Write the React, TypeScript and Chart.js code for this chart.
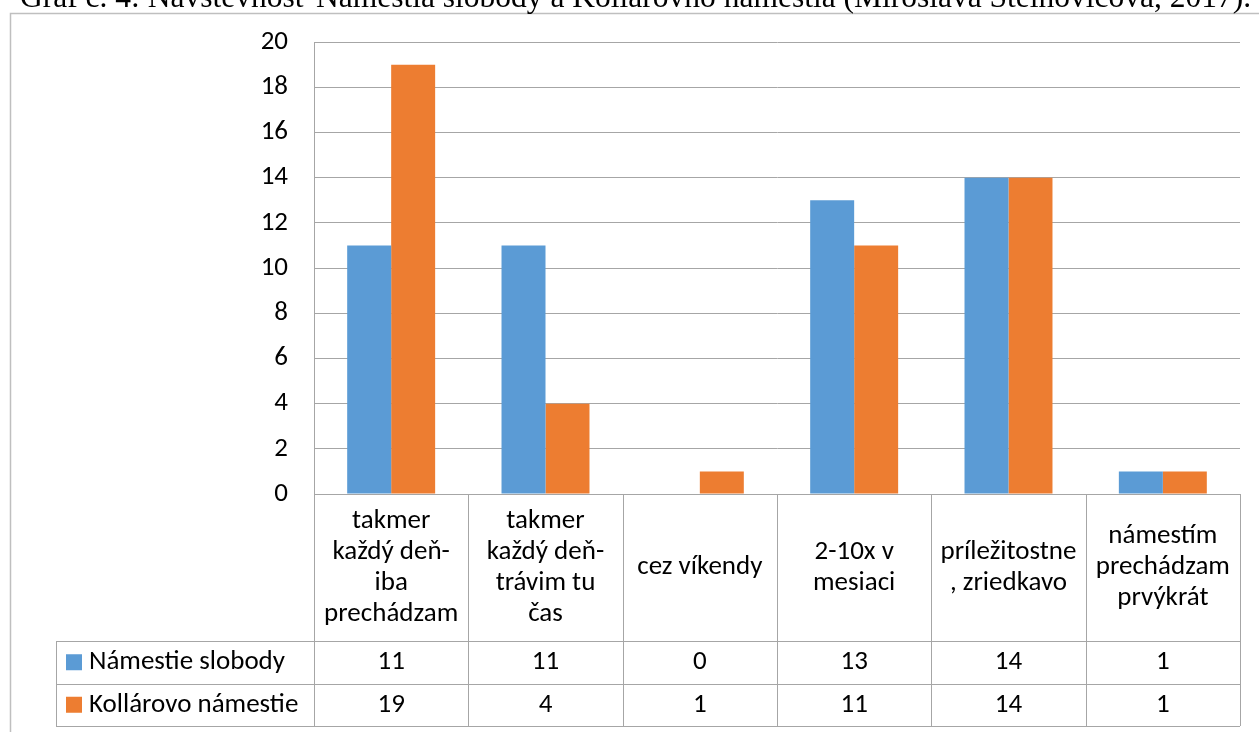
import React, { useEffect, useRef } from "react";
import { Chart, registerables } from "chart.js";

Chart.register(...registerables);

const titleText =
  "Graf č. 4: Návštevnosť Námestia slobody a Kollárovho námestia (Miroslava Steinovicová, 2017).";

const categories: string[][] = [
  ["takmer", "každý deň-", "iba", "prechádzam"],
  ["takmer", "každý deň-", "trávim tu", "čas"],
  ["cez víkendy"],
  ["2-10x v", "mesiaci"],
  ["príležitostne", ", zriedkavo"],
  ["námestím", "prechádzam", "prvýkrát"],
];

const seriesNames = ["Námestie slobody", "Kollárovo námestie"];
const namestieSlobody = [11, 11, 0, 13, 14, 1];
const kollarovoNamestie = [19, 4, 1, 11, 14, 1];
const yMin = 0;
const yMax = 20;
const yStep = 2;

const BLUE = "#5B9BD5";
const ORANGE = "#ED7D31";
const GRID = "#A6A6A6";
const FONT = "Carlito, Lato, 'Open Sans', sans-serif";
const FONT_SIZE = 27;

const tablePlugin = {
  id: "dataTable",
  beforeDraw(chart: any) {
    const ctx = chart.ctx;
    ctx.save();
    // outer frame
    ctx.strokeStyle = "#BFBFBF";
    ctx.lineWidth = 1.5;
    ctx.strokeRect(10.5, 13.5, 1400, 900);
    // title (partially cut off at the top)
    ctx.fillStyle = "#000";
    ctx.font = "31.5px 'Liberation Serif', 'Times New Roman', serif";
    ctx.textAlign = "left";
    ctx.textBaseline = "alphabetic";
    ctx.fillText(titleText, 20, 7);
    ctx.restore();
  },
  afterDraw(chart: any) {
    const ctx = chart.ctx;
    const xs = chart.scales.x;
    const { left, right, bottom } = chart.chartArea;
    const n = categories.length;
    const colW = (right - left) / n;
    const headerBottom = bottom + 147;
    const rowH = 42.5;
    const row1Bottom = headerBottom + rowH;
    const row2Bottom = row1Bottom + rowH;
    const legendLeft = 56;
    const crisp = (v: number) => Math.round(v) + 0.5;

    ctx.save();
    ctx.strokeStyle = GRID;
    ctx.lineWidth = 1;
    ctx.beginPath();
    ctx.moveTo(left, crisp(bottom));
    ctx.lineTo(right, crisp(bottom));
    [headerBottom, row1Bottom, row2Bottom].forEach((y) => {
      ctx.moveTo(legendLeft, crisp(y));
      ctx.lineTo(right, crisp(y));
    });
    for (let i = 0; i <= n; i++) {
      const x = crisp(left + i * colW);
      ctx.moveTo(x, bottom);
      ctx.lineTo(x, row2Bottom);
    }
    ctx.moveTo(crisp(legendLeft), headerBottom);
    ctx.lineTo(crisp(legendLeft), row2Bottom);
    ctx.stroke();

    ctx.fillStyle = "#000";
    ctx.font = `${FONT_SIZE}px ${FONT}`;
    ctx.textAlign = "center";
    ctx.textBaseline = "middle";
    const lineH = 31;
    const headerMid = (bottom + headerBottom) / 2;
    categories.forEach((lines, i) => {
      const cx = xs.getPixelForValue(i);
      const y0 = headerMid - ((lines.length - 1) * lineH) / 2;
      lines.forEach((t, k) => ctx.fillText(t, cx, y0 + k * lineH));
    });

    const rows = [namestieSlobody, kollarovoNamestie];
    const colors = [BLUE, ORANGE];
    rows.forEach((vals, r) => {
      const top = headerBottom + r * rowH;
      const mid = top + rowH / 2;
      vals.forEach((v, i) => {
        ctx.fillStyle = "#000";
        ctx.textAlign = "center";
        ctx.fillText(String(v), xs.getPixelForValue(i), mid);
      });
      ctx.fillStyle = colors[r];
      ctx.fillRect(66, mid - 8, 16, 16);
      ctx.fillStyle = "#000";
      ctx.textAlign = "left";
      ctx.fillText(seriesNames[r], 89, mid);
    });
    ctx.restore();
  },
};

export default function App() {
  const ref = useRef<HTMLCanvasElement | null>(null);
  useEffect(() => {
    if (!ref.current) return;
    const chart = new Chart(ref.current, {
      type: "bar",
      data: {
        labels: categories.map((c) => c.join(" ")),
        datasets: [
          {
            label: seriesNames[0],
            data: namestieSlobody,
            backgroundColor: BLUE,
            barPercentage: 1,
            categoryPercentage: 0.57,
          },
          {
            label: seriesNames[1],
            data: kollarovoNamestie,
            backgroundColor: ORANGE,
            barPercentage: 1,
            categoryPercentage: 0.57,
          },
        ],
      },
      options: {
        responsive: false,
        animation: false,
        devicePixelRatio: 1,
        layout: { padding: { left: 0, right: 19, top: 42, bottom: 238 } },
        plugins: {
          legend: { display: false },
          tooltip: { enabled: false },
          title: { display: false },
        },
        scales: {
          x: { display: false },
          y: {
            min: yMin,
            max: yMax,
            ticks: {
              stepSize: yStep,
              padding: 26,
              color: "#000",
              font: { family: FONT, size: FONT_SIZE },
            },
            grid: { color: GRID, drawTicks: false, lineWidth: 1 },
            border: { display: true, color: GRID },
            afterFit: (scale: any) => {
              scale.width = 314;
            },
          },
        },
      },
      plugins: [tablePlugin],
    });
    return () => chart.destroy();
  }, []);
  return (
    <div style={{ position: "absolute", left: 0, top: 0, width: 1259, height: 732, background: "#fff" }}>
      <canvas ref={ref} width={1259} height={732} />
    </div>
  );
}
